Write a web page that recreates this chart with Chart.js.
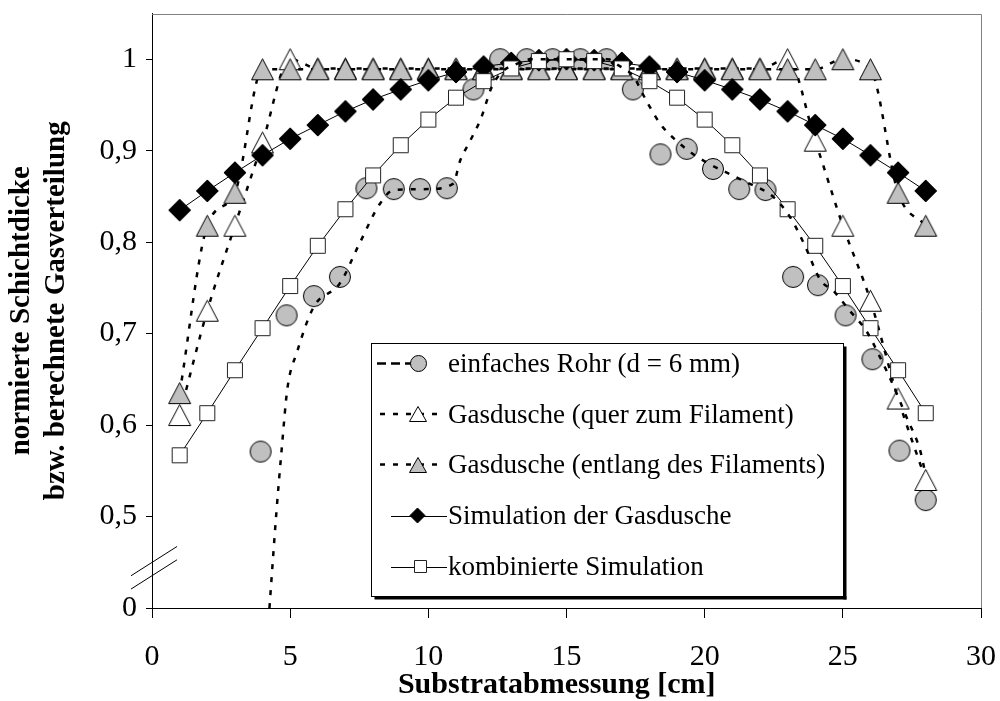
<!DOCTYPE html>
<html><head><meta charset="utf-8">
<script src="https://cdn.jsdelivr.net/npm/chart.js@4.4.1/dist/chart.umd.min.js"></script>
<style>html,body{margin:0;padding:0;background:#fff}canvas{display:block}</style>
</head><body>
<canvas id="c" width="1000" height="701"></canvas>
<script>
// ---------- data ----------
const positions = [1,2,3,4,5,6,7,8,9,10,11,12,13,14,15,16,17,18,19,20,21,22,23,24,25,26,27,28];

const rohrX = [3.93,4.87,5.86,6.8,7.76,8.75,9.7,10.67,11.63,12.6,13.56,14.5,15.5,16.45,17.4,18.4,19.35,20.3,21.25,22.2,23.2,24.1,25.1,26.07,27.05,28];
const rohrY = [0.571,0.720,0.741,0.762,0.859,0.858,0.858,0.859,0.967,1.0,1.0,1.0,1.0,1.0,0.967,0.896,0.902,0.880,0.858,0.857,0.762,0.753,0.720,0.672,0.572,0.518];

// dashed curve drawn through the "einfaches Rohr" results
const rohrCurveX = [4.25,4.5,4.7,4.9,5.25,5.85,6.8,7.5,8.25,8.75,10.0,10.9,11.15,11.5,11.9,12.3,12.7,13.2,13.7,16.5,16.9,17.4,17.9,18.4,18.9,19.5,20.2,20.8,21.4,22.5,23.1,23.6,24.2,24.65,25.25,25.85,26.35,26.8,27.3,27.8,28];
const rohrCurveY = [0,0.504,0.576,0.64,0.68,0.729,0.755,0.798,0.842,0.857,0.858,0.864,0.889,0.91,0.935,0.97,0.987,0.995,1.0,1.0,0.993,0.982,0.954,0.929,0.913,0.898,0.885,0.876,0.867,0.849,0.827,0.798,0.758,0.747,0.725,0.703,0.674,0.645,0.609,0.572,0.545];

const querY = [0.611,0.725,0.818,0.909,1.0,0.99,0.99,0.99,0.99,0.99,0.99,0.99,0.99,0.99,0.99,0.99,0.99,0.99,0.99,0.99,0.99,0.99,1.0,0.911,0.818,0.736,0.629,0.540];
const entlangY = [0.635,0.818,0.854,0.989,0.989,0.989,0.989,0.989,0.989,0.989,0.989,0.989,0.989,0.989,0.989,0.989,0.989,0.989,0.989,0.989,0.989,0.989,0.989,0.989,1.0,0.989,0.854,0.818];
const simY = [0.835,0.856,0.876,0.895,0.913,0.928,0.943,0.956,0.967,0.977,0.986,0.992,0.996,0.999,1.0,0.999,0.996,0.992,0.986,0.977,0.967,0.956,0.943,0.928,0.913,0.895,0.876,0.856];
const kombY = [0.567,0.613,0.660,0.706,0.752,0.796,0.836,0.873,0.906,0.934,0.958,0.976,0.990,0.998,1.0,0.998,0.990,0.976,0.958,0.934,0.906,0.873,0.836,0.796,0.752,0.706,0.660,0.613];

const seriesNames = ['einfaches Rohr (d = 6 mm)','Gasdusche (quer zum Filament)','Gasdusche (entlang des Filaments)','Simulation der Gasdusche','kombinierte Simulation'];
const yTickValues = [0,0.5,0.6,0.7,0.8,0.9,1];
const yTickLabels = ['0','0,5','0,6','0,7','0,8','0,9','1'];
const xTickLabels = ['0','5','10','15','20','25','30'];
const yTitle = ['normierte Schichtdicke','bzw. berechnete Gasverteilung'];
const xTitle = 'Substratabmessung [cm]';

// broken y axis: values below 0,5 are squeezed into the band under the break
const brk = v => v >= 0.5 ? v : 0.4 + v * 0.2;

// ---------- marker images ----------
function mk(shape, w, h, fill, stroke) {
  const c = document.createElement('canvas');
  c.width = Math.ceil(w) + 2; c.height = Math.ceil(h) + 2;
  const g = c.getContext('2d');
  const cx = c.width / 2, cy = c.height / 2;
  g.fillStyle = fill; g.strokeStyle = stroke; g.lineWidth = 1;
  g.beginPath();
  if (shape === 'circle') g.arc(cx, cy, w / 2 - 0.5, 0, Math.PI * 2);
  else if (shape === 'triangle') { g.moveTo(cx, cy - h / 2 + 0.5); g.lineTo(cx + w / 2 - 0.5, cy + h / 2 - 0.5); g.lineTo(cx - w / 2 + 0.5, cy + h / 2 - 0.5); g.closePath(); }
  else if (shape === 'diamond') { g.moveTo(cx, cy - h / 2); g.lineTo(cx + w / 2, cy); g.lineTo(cx, cy + h / 2); g.lineTo(cx - w / 2, cy); g.closePath(); }
  else { g.rect(cx - w / 2 + 0.5, cy - h / 2 + 0.5, w - 1, h - 1); }
  g.fill(); g.stroke();
  return c;
}
const GRAY = '#c0c0c0';
const mCircle = mk('circle', 22, 22, GRAY, '#000');
const mTriW = mk('triangle', 23, 22, '#fff', '#000');
const mTriG = mk('triangle', 23, 22, GRAY, '#000');
const mDia = mk('diamond', 22, 22, '#000', '#000');
const mSq = mk('square', 16, 16, '#fff', '#222');
const lCircle = mk('circle', 17, 17, GRAY, '#000');
const lTriW = mk('triangle', 18, 16, '#fff', '#000');
const lTriG = mk('triangle', 18, 16, GRAY, '#000');
const lDia = mk('diamond', 15, 15, '#000', '#000');
const lSq = mk('square', 13, 13, '#fff', '#222');

const pts = (xs, ys) => xs.map((x, i) => ({x: x, y: brk(ys[i])}));

// ---------- decorations ----------
const deco = {
  id: 'deco',
  beforeDatasetsDraw(chart) {
    const {ctx, chartArea: a} = chart;
    ctx.save();
    ctx.strokeStyle = '#808080'; ctx.lineWidth = 1;
    ctx.beginPath();
    ctx.moveTo(a.left, Math.round(a.top) + 0.5);
    ctx.lineTo(Math.round(a.right) + 0.5, Math.round(a.top) + 0.5);
    ctx.lineTo(Math.round(a.right) + 0.5, a.bottom);
    ctx.stroke();
    ctx.restore();
  },
  afterDraw(chart) {
    const {ctx, chartArea: a} = chart;
    ctx.save();
    // axis break marks
    ctx.strokeStyle = '#000'; ctx.lineWidth = 1;
    const s = -0.636;
    [45.6, 32.3].forEach(off => {
      const y0 = a.bottom - off;
      ctx.beginPath();
      ctx.moveTo(a.left - 21, y0 - s * 21);
      ctx.lineTo(a.left + 25, y0 + s * 25);
      ctx.stroke();
    });
    // x axis title
    ctx.fillStyle = '#000';
    ctx.font = 'bold 30px "Liberation Serif"';
    ctx.textAlign = 'center'; ctx.textBaseline = 'alphabetic';
    ctx.fillText(xTitle, 556.7, 693.3);
    // legend
    const L = 371.5, T = 343.5, R = 843.5, B = 596.5;
    ctx.fillStyle = '#000';
    ctx.fillRect(L + 3, B, R - L, 3);
    ctx.fillRect(R, T + 3, 3, B - T);
    ctx.fillStyle = '#fff';
    ctx.fillRect(L, T, R - L, B - T);
    ctx.strokeStyle = '#000'; ctx.lineWidth = 1;
    ctx.strokeRect(L, T, R - L, B - T);
    const rowY = [363.5, 414, 464.5, 515.5, 566.5];
    const img = [lCircle, lTriW, lTriG, lDia, lSq];
    const mx = [418, 417.5, 417.5, 417.5, 420];
    rowY.forEach((y, i) => {
      ctx.save();
      ctx.strokeStyle = '#000';
      ctx.beginPath();
      if (i === 0) { ctx.lineWidth = 2.5; ctx.setLineDash([9, 5]); ctx.moveTo(377, y); ctx.lineTo(418, y); }
      else if (i < 3) { ctx.lineWidth = 2.5; ctx.setLineDash([5, 8]); ctx.moveTo(380, y); ctx.lineTo(438, y); }
      else { ctx.lineWidth = 1; ctx.moveTo(391, Math.round(y) + 0.5); ctx.lineTo(447, Math.round(y) + 0.5); }
      ctx.stroke();
      ctx.restore();
      const m = img[i];
      ctx.drawImage(m, Math.round(mx[i] - m.width / 2), Math.round(y - m.height / 2));
      ctx.fillStyle = '#000';
      ctx.font = '27px "Liberation Serif"';
      ctx.textAlign = 'left'; ctx.textBaseline = 'alphabetic';
      ctx.fillText(seriesNames[i], 448, y + 8.7);
    });
    ctx.restore();
  }
};

const dash = [5, 8];
new Chart(document.getElementById('c'), {
  type: 'line',
  data: {
    datasets: [
      {label: 'Trend einfaches Rohr', data: pts(rohrCurveX, rohrCurveY), borderColor: '#000', borderWidth: 2.5, borderDash: dash, pointRadius: 0, cubicInterpolationMode: 'monotone', fill: false, order: 0},
      {label: seriesNames[4], data: pts(positions, kombY), borderColor: '#000', borderWidth: 1, pointStyle: mSq, pointRadius: 9, tension: 0, order: 1},
      {label: seriesNames[3], data: pts(positions, simY), borderColor: '#000', borderWidth: 1, pointStyle: mDia, pointRadius: 11, tension: 0, order: 2},
      {label: seriesNames[2], data: pts(positions, entlangY), borderColor: '#000', borderWidth: 2.5, borderDash: dash, pointStyle: mTriG, pointRadius: 11, cubicInterpolationMode: 'monotone', order: 3},
      {label: seriesNames[1], data: pts(positions, querY), borderColor: '#000', borderWidth: 2.5, borderDash: dash, pointStyle: mTriW, pointRadius: 11, cubicInterpolationMode: 'monotone', order: 4},
      {label: seriesNames[0], data: pts(rohrX, rohrY), showLine: false, pointStyle: mCircle, pointRadius: 11, order: 5}
    ]
  },
  options: {
    responsive: false,
    animation: false,
    events: [],
    layout: {padding: {top: 12, right: 19, left: 0, bottom: 0}},
    plugins: {legend: {display: false}, tooltip: {enabled: false}},
    scales: {
      x: {
        type: 'linear', min: 0, max: 30,
        ticks: {stepSize: 5, padding: 21, color: '#000', font: {family: 'Liberation Serif', size: 30},
          callback: (v, i) => xTickLabels[i]},
        grid: {display: true, drawOnChartArea: false, tickLength: 10, color: '#000', lineWidth: 1},
        border: {display: true, color: '#000', width: 1},
        afterFit: s => { s.height = 93; s.paddingLeft = 0; s.paddingRight = 0; }
      },
      y: {
        type: 'linear', min: 0.4, max: 1.05,
        afterBuildTicks: s => { s.ticks = yTickValues.map(v => ({value: brk(v)})); },
        ticks: {padding: 9, color: '#000', font: {family: 'Liberation Serif', size: 30},
          callback: (v, i) => yTickLabels[i]},
        grid: {display: true, drawOnChartArea: false, tickLength: 6, color: '#000', lineWidth: 1},
        border: {display: true, color: '#000', width: 1},
        title: {display: true, text: yTitle, color: '#000', font: {family: 'Liberation Serif', size: 29, weight: 'bold', lineHeight: 1.2}, padding: {top: 4.6, bottom: 0}},
        afterFit: s => { s.width = 152; s.paddingTop = 0; s.paddingBottom = 0; }
      }
    }
  },
  plugins: [deco]
});
</script>
</body></html>
